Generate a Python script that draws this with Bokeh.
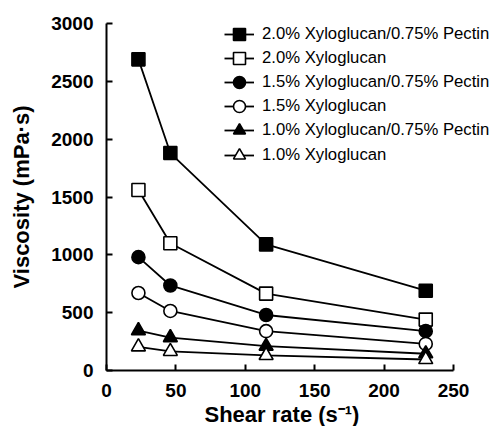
from bokeh.plotting import figure
from bokeh.models import FixedTicker, Legend, LegendItem, Title
from bokeh.embed import file_html
from bokeh.resources import INLINE

shear_rate = [23, 46, 115, 230]
xg20_pectin = [2690, 1880, 1090, 690]
xg20 = [1560, 1100, 665, 440]
xg15_pectin = [980, 735, 480, 340]
xg15 = [670, 515, 340, 230]
xg10_pectin = [345, 285, 210, 145]
xg10 = [205, 165, 130, 95]

labels = [
    "2.0% Xyloglucan/0.75% Pectin",
    "2.0% Xyloglucan",
    "1.5% Xyloglucan/0.75% Pectin",
    "1.5% Xyloglucan",
    "1.0% Xyloglucan/0.75% Pectin",
    "1.0% Xyloglucan",
]
series = [xg20_pectin, xg20, xg15_pectin, xg15, xg10_pectin, xg10]
markers = ["square", "square", "circle", "circle", "triangle", "triangle"]
fills = ["black", "white", "black", "white", "black", "white"]
sizes = [13, 13, 13, 13, 14, 14]

x_ticks = [0, 50, 100, 150, 200, 250]
y_ticks = [0, 500, 1000, 1500, 2000, 2500, 3000]
x_axis_end = 250

FONT = "Liberation Sans"

# Axis spans 347 px for 0..250; frame extended to the right (axis bounded)
# so the legend, which is clipped to the frame, has room.
AXIS_PX = 347
FRAME_W = 386
x_view_end = x_axis_end * FRAME_W / AXIS_PX

p = figure(frame_width=FRAME_W, frame_height=347, x_range=(0, x_view_end),
           y_range=(0, 3000),
           output_backend="svg", toolbar_location=None, title=None,
           min_border_left=106, min_border_top=23, min_border_right=0,
           min_border_bottom=20)
p.outline_line_color = None
p.grid.visible = False
p.background_fill_color = "white"

for ax in (p.xaxis[0], p.yaxis[0]):
    ax.axis_line_width = 2
    ax.axis_line_color = "black"
    ax.major_tick_line_width = 2
    ax.major_tick_line_color = "black"
    ax.major_tick_in = 6
    ax.major_tick_out = 0
    ax.minor_tick_line_color = None
    ax.major_label_text_font = FONT
    ax.major_label_text_font_style = "bold"
    ax.major_label_text_font_size = "19px"
    ax.major_label_text_color = "black"
    ax.axis_label_text_font = FONT
    ax.axis_label_text_font_style = "bold"
    ax.axis_label_text_font_size = "22px"
    ax.axis_label_text_color = "black"

p.xaxis.ticker = FixedTicker(ticks=x_ticks)
p.yaxis.ticker = FixedTicker(ticks=y_ticks)
p.xaxis.bounds = (0, x_axis_end)
p.xaxis.major_label_standoff = 13
p.yaxis.axis_label = "Viscosity (mPa\u00b7s)"
p.yaxis.major_label_standoff = 13
p.yaxis.axis_label_standoff = 14

# x-axis title placed under the bounded axis (not the wider frame)
xtitle = Title(text="Shear rate (s\u207b\u00b9)", align="left", offset=98,
               text_font=FONT, text_font_style="bold", text_font_size="22px",
               text_color="black", standoff=0)
p.add_layout(xtitle, "below")

items = []
for lab, ys, mk, fc, sz in zip(labels, series, markers, fills, sizes):
    lr = p.line(shear_rate, ys, line_color="black", line_width=1.8)
    sr = p.scatter(shear_rate, ys, marker=mk, size=sz, fill_color=fc,
                   line_color="black", line_width=1.6)
    items.append(LegendItem(label=lab, renderers=[lr, sr]))

# one single-row legend per entry (lets the legend symbols be large
# while keeping the tight 24 px row pitch of the original)
GLYPH = 30
ROW_PITCH = 24.2
FIRST_ROW_Y = 321.5  # legend-box bottom, px above frame bottom, for row 1
for i, it in enumerate(items):
    lg = Legend(items=[it], location=(118, FIRST_ROW_Y - i * ROW_PITCH))
    lg.label_text_font = FONT
    lg.label_text_font_size = "16.7px"
    lg.label_text_color = "black"
    lg.glyph_width = GLYPH
    lg.glyph_height = GLYPH
    lg.label_height = GLYPH
    lg.spacing = 0
    lg.label_standoff = 8
    lg.padding = 0
    lg.margin = 0
    lg.border_line_color = None
    lg.background_fill_alpha = 0
    p.add_layout(lg, "center")

open("out.html", "w").write(file_html(p, INLINE))
